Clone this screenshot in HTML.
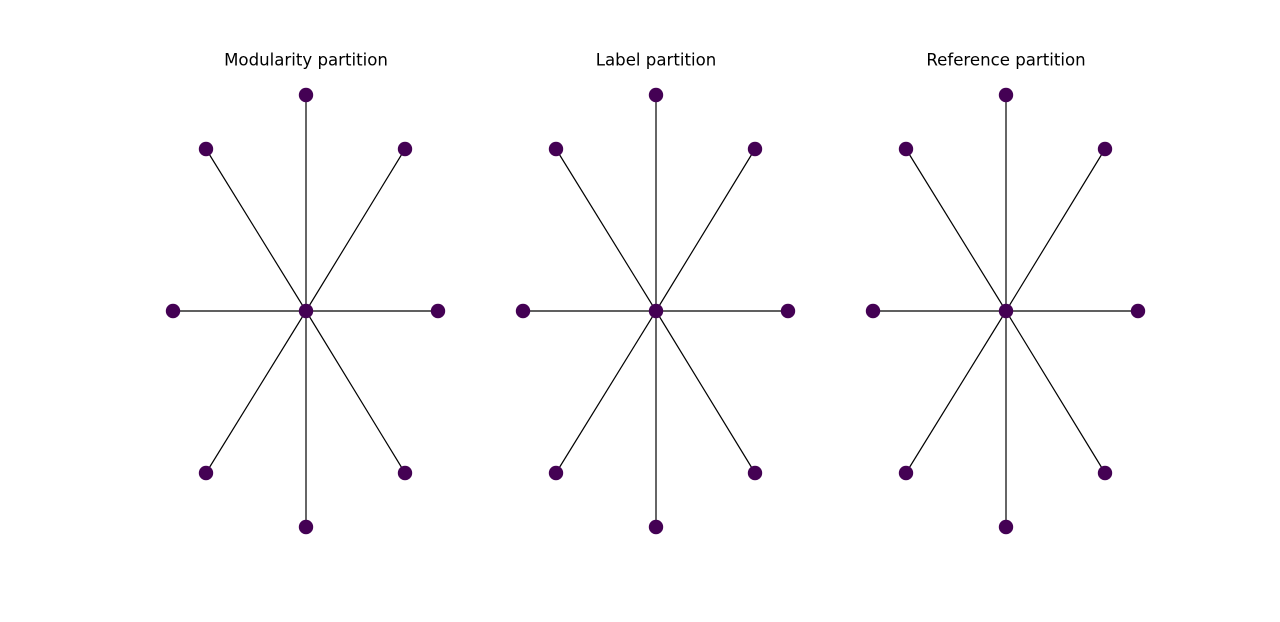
<!DOCTYPE html>
<html><head><meta charset="utf-8"><style>
html,body{margin:0;padding:0;background:#fff;}
</style></head><body>
<svg width="1280" height="617" viewBox="0 0 1280 617" xmlns="http://www.w3.org/2000/svg">
<rect width="1280" height="617" fill="#fff"/>
<g font-family="DejaVu Sans, Liberation Sans, sans-serif" font-size="16.6" fill="#000" text-anchor="middle">
<text x="306" y="65.5">Modularity partition</text>
<text x="656" y="65.5">Label partition</text>
<text x="1006" y="65.5">Reference partition</text>
</g>
<defs>
<g id="star">
<g stroke="#000" stroke-width="1.2">
<line x1="0" y1="0" x2="0" y2="-216"/>
<line x1="0" y1="0" x2="0" y2="216"/>
<line x1="0" y1="0" x2="-133" y2="0"/>
<line x1="0" y1="0" x2="132" y2="0"/>
<line x1="0" y1="0" x2="-100" y2="-162"/>
<line x1="0" y1="0" x2="99" y2="-162"/>
<line x1="0" y1="0" x2="-100" y2="162"/>
<line x1="0" y1="0" x2="99" y2="162"/>
</g>
<g fill="#440154">
<circle cx="0" cy="0" r="7.2"/>
<circle cx="0" cy="-216" r="7.2"/>
<circle cx="0" cy="216" r="7.2"/>
<circle cx="-133" cy="0" r="7.2"/>
<circle cx="132" cy="0" r="7.2"/>
<circle cx="-100" cy="-162" r="7.2"/>
<circle cx="99" cy="-162" r="7.2"/>
<circle cx="-100" cy="162" r="7.2"/>
<circle cx="99" cy="162" r="7.2"/>
</g>
</g>
</defs>
<use href="#star" x="306" y="311"/>
<use href="#star" x="656" y="311"/>
<use href="#star" x="1006" y="311"/>
</svg>
</body></html>
